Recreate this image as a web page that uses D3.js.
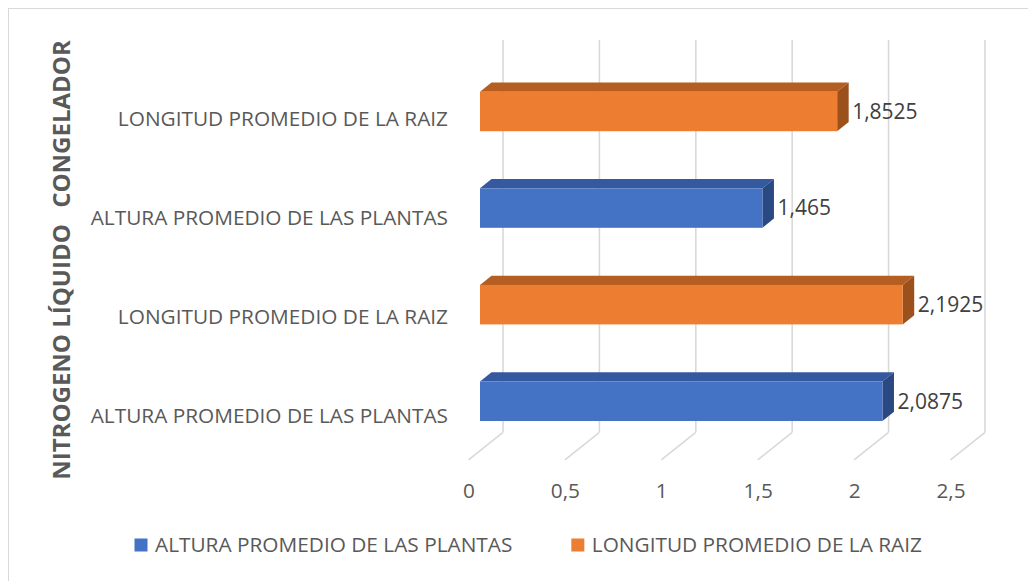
<!DOCTYPE html>
<html>
<head>
<meta charset="utf-8">
<script src="https://cdn.jsdelivr.net/npm/d3@7"></script>
<style>
  body { margin: 0; background: #fff; }
  text { font-family: "Open Sans", sans-serif; fill: #595959; }
</style>
</head>
<body>
<div id="chart"></div>
<script>
// datos
var categories = ["LONGITUD PROMEDIO DE LA RAIZ", "ALTURA PROMEDIO DE LAS PLANTAS",
                  "LONGITUD PROMEDIO DE LA RAIZ", "ALTURA PROMEDIO DE LAS PLANTAS"];
var groups = ["CONGELADOR", "NITROGENO LÍQUIDO"];
var groupOf = [0, 0, 1, 1];
var seriesNames = ["ALTURA PROMEDIO DE LAS PLANTAS", "LONGITUD PROMEDIO DE LA RAIZ"];
var seriesOf = [1, 0, 1, 0];
var values = [1.8525, 1.465, 2.1925, 2.0875];
var ticks = [0, 0.5, 1, 1.5, 2, 2.5];

var front = ["#4472C4", "#ED7D31"];
var topc = ["#34599E", "#B55E22"];
var side = ["#2A4982", "#9C501C"];

var W = 1028, H = 581;
var es = d3.formatLocale({ decimal: ",", thousands: ".", grouping: [3], currency: ["", "€"] });
var fmt = es.format("");

var svg = d3.select("#chart").append("svg").attr("width", W).attr("height", H);

svg.append("rect")
  .attr("x", 8.5).attr("y", 8.5).attr("width", 1030).attr("height", 590)
  .attr("fill", "none").attr("stroke", "#d9d9d9");

// proyeccion 3D: z = 0 frente del piso, z = 1 pared del fondo
var floorX0 = 468.5, floorY = 459.9, depthX = 34.5, depthY = 27.6;
var x = d3.scaleLinear().domain([0, 2.5]).range([0, 482]);
function px(v, z) { return floorX0 + x(v) + z * depthX; }

var barTop = d3.scalePoint().domain(d3.range(categories.length)).range([91.7, 381.5]);
var barH = 39.5;

// rejilla
var grid = svg.append("g").attr("stroke", "#d9d9d9").attr("stroke-width", 1.6).attr("fill", "none");
grid.selectAll(".wall").data(ticks).join("line")
  .attr("x1", function(d) { return px(d, 1); }).attr("x2", function(d) { return px(d, 1); })
  .attr("y1", 40).attr("y2", floorY - depthY);
grid.selectAll(".floor").data(ticks).join("line")
  .attr("x1", function(d) { return px(d, 1); }).attr("y1", floorY - depthY)
  .attr("x2", function(d) { return px(d, 0); }).attr("y2", floorY);

// barras
var z0 = 1 / 3, z1 = 2 / 3;
var bars = svg.append("g").selectAll("g").data(values).join("g");
bars.append("path")
  .attr("fill", function(d, i) { return topc[seriesOf[i]]; })
  .attr("d", function(d, i) {
    var t = barTop(i);
    return "M" + px(0, z0) + "," + t + "L" + px(d, z0) + "," + t +
      "L" + px(d, z1) + "," + (t - depthY / 3) + "L" + px(0, z1) + "," + (t - depthY / 3) + "Z";
  });
bars.append("path")
  .attr("fill", function(d, i) { return side[seriesOf[i]]; })
  .attr("d", function(d, i) {
    var t = barTop(i);
    return "M" + px(d, z0) + "," + t + "L" + px(d, z1) + "," + (t - depthY / 3) +
      "L" + px(d, z1) + "," + (t - depthY / 3 + barH) + "L" + px(d, z0) + "," + (t + barH) + "Z";
  });
bars.append("rect")
  .attr("fill", function(d, i) { return front[seriesOf[i]]; })
  .attr("x", px(0, z0))
  .attr("y", function(d, i) { return barTop(i); })
  .attr("width", function(d) { return x(d); })
  .attr("height", barH);
bars.append("text")
  .attr("x", function(d) { return px(d, z1) + 3.5; })
  .attr("y", function(d, i) { return barTop(i) + barH / 2; })
  .attr("dy", "0.35em")
  .style("font-size", "21px")
  .style("fill", "#404040")
  .text(function(d) { return fmt(d); });

// eje de valores
var axis = svg.append("g").attr("transform", "translate(" + floorX0 + ",491)")
  .call(d3.axisBottom(x).tickValues(ticks).tickSize(0).tickPadding(0).tickFormat(es.format("")));
axis.select(".domain").remove();
axis.selectAll("text").attr("y", 0).attr("dy", "0.35em")
  .style("font-size", "20.8px").style("font-family", "Open Sans").attr("fill", "#595959");

// etiquetas de categoria
var labelY = d3.scalePoint().domain(d3.range(categories.length)).range([118.4, 415.5]);
svg.append("g").selectAll("text").data(categories).join("text")
  .attr("x", 448)
  .attr("y", function(d, i) { return labelY(i); })
  .attr("dy", "0.35em")
  .attr("text-anchor", "end")
  .style("font-size", "20.8px")
  .text(function(d) { return d; });

var groupY = d3.scalePoint().domain(d3.range(groups.length)).range([124, 352]);
svg.append("g").selectAll("text").data(groups).join("text")
  .attr("transform", function(d, i) { return "translate(62," + groupY(i) + ") rotate(-90)"; })
  .attr("dy", "0.35em")
  .attr("text-anchor", "middle")
  .style("font-size", "24px")
  .style("font-weight", "bold")
  .text(function(d) { return d; });

// leyenda
var lx = 134.5;
seriesNames.forEach(function(name, i) {
  var g = svg.append("g").attr("transform", "translate(" + lx + ",545)");
  g.append("rect").attr("x", 0).attr("y", -6.5).attr("width", 13).attr("height", 13).attr("fill", front[i]);
  var t = g.append("text").attr("x", 20.5).attr("dy", "0.35em").style("font-size", "20.8px").text(name);
  lx += 20.5 + t.node().getComputedTextLength() + 59;
});
</script>
</body>
</html>
